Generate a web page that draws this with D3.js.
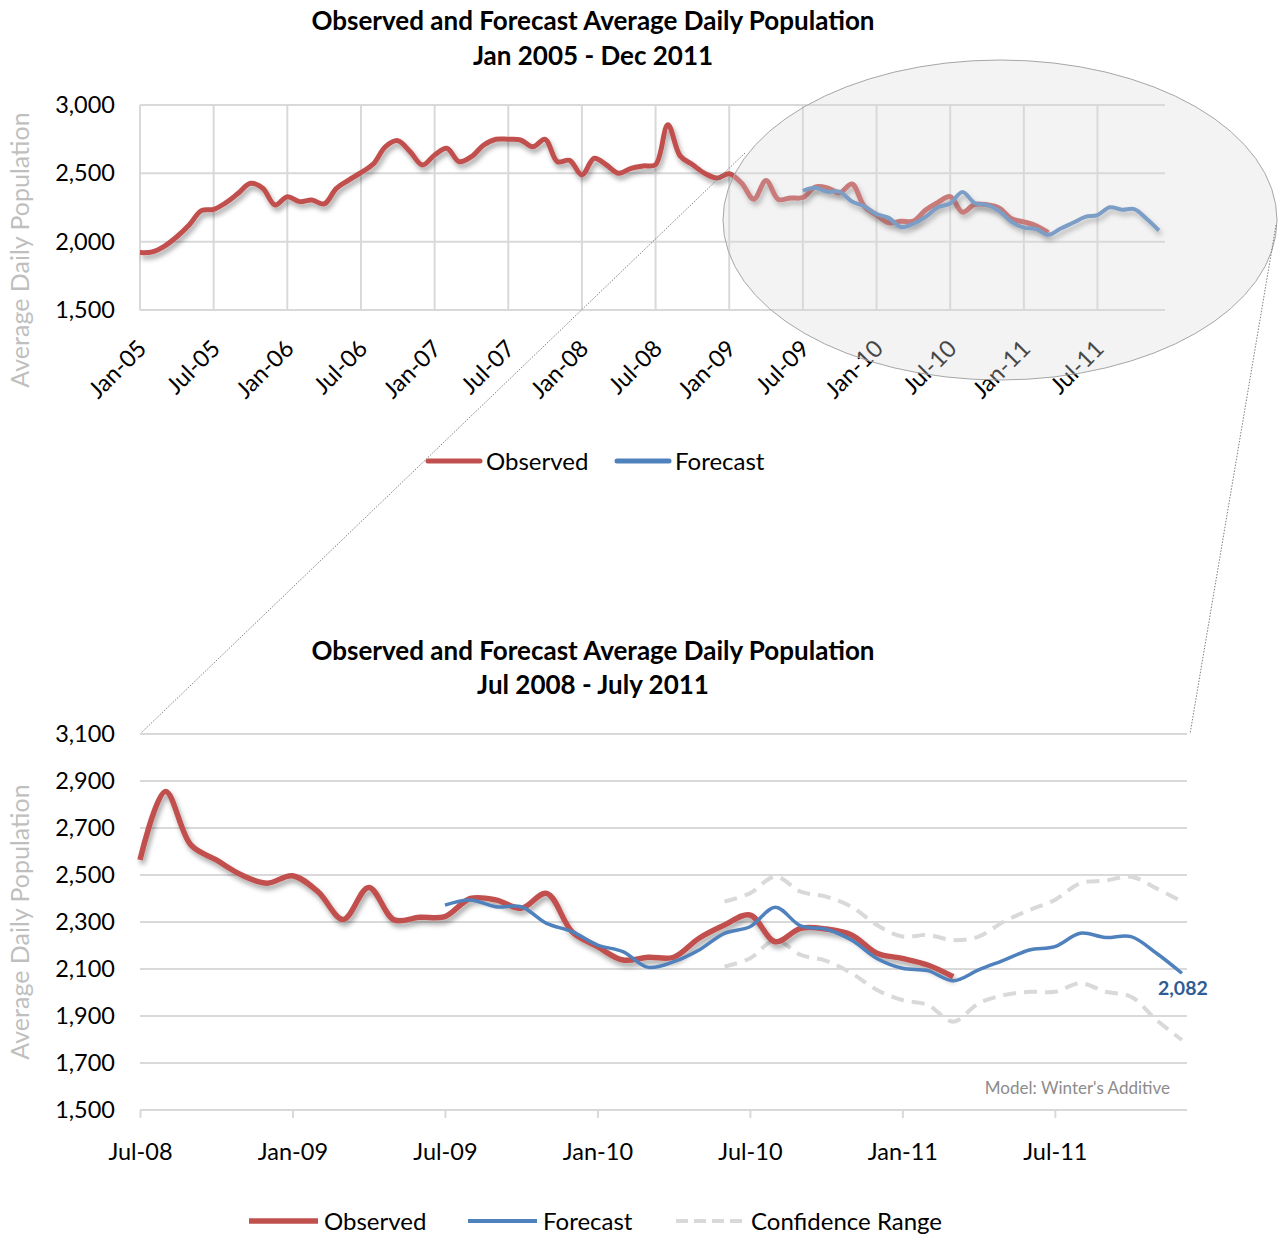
<!DOCTYPE html>
<html>
<head>
<meta charset="utf-8">
<script src="https://cdn.jsdelivr.net/npm/d3@7"></script>
<style>
  body { margin: 0; background: #fff; }
  svg { font-family: Lato, "Open Sans", sans-serif; }
</style>
</head>
<body>
<script>
// observed ADP, monthly Jan-05 .. Mar-11
let observed = [
  1920, 1925, 1968, 2036, 2122, 2227, 2237, 2285, 2354, 2427, 2391, 2268,
  2329, 2293, 2305, 2276, 2390, 2451, 2505, 2568, 2695, 2739, 2659, 2561,
  2634, 2683, 2585, 2622, 2707, 2749, 2749, 2744, 2695, 2749, 2585, 2595,
  2488, 2610, 2561, 2500, 2537, 2554, 2564, 2855, 2628, 2564, 2500, 2465,
  2497, 2429, 2311, 2447, 2309, 2320, 2323, 2400, 2394, 2358, 2422, 2259,
  2195, 2138, 2150, 2150, 2231, 2287, 2330, 2216, 2273, 2270, 2245, 2167,
  2145, 2117, 2067
]
// forecast, monthly Jul-09 .. Dec-11
let forecast = [
  2372, 2394, 2365, 2365, 2294, 2259, 2202, 2174, 2107, 2131, 2181, 2252,
  2280, 2363, 2283, 2269, 2223, 2145, 2103, 2093, 2050, 2096, 2138, 2181,
  2195, 2252, 2234, 2238, 2167, 2082
]
// confidence range, monthly Jun-10 .. Dec-11
let confUpper = [2387, 2422, 2493, 2429, 2408, 2365, 2287, 2238, 2245, 2223, 2238, 2302, 2351, 2394, 2465, 2476, 2493, 2443, 2387]
let confLower = [2110, 2145, 2223, 2160, 2135, 2082, 2011, 1968, 1947, 1876, 1954, 1989, 2003, 2003, 2039, 2003, 1982, 1883, 1798]

let topTicks = ["Jan-05", "Jul-05", "Jan-06", "Jul-06", "Jan-07", "Jul-07", "Jan-08", "Jul-08", "Jan-09", "Jul-09", "Jan-10", "Jul-10", "Jan-11", "Jul-11"]
let botTicks = ["Jul-08", "Jan-09", "Jul-09", "Jan-10", "Jul-10", "Jan-11", "Jul-11"]
let topY = [1500, 2000, 2500, 3000]
let botY = [1500, 1700, 1900, 2100, 2300, 2500, 2700, 2900, 3100]

// month offsets (from Jan-05)
const forecastStart = 54, confStart = 65, zoomStart = 42

const RED = "#c0504d", BLUE = "#4f81bd", GRID = "#d9d9d9"

let width = 1282, height = 1235

let svg = d3.select("body").append("svg")
    .attr("width", width)
    .attr("height", height)

let defs = svg.append("defs")
let f = defs.append("filter").attr("id", "shadow")
    .attr("x", "-10%").attr("y", "-20%").attr("width", "130%").attr("height", "150%")
f.append("feDropShadow")
    .attr("dx", 2).attr("dy", 4).attr("stdDeviation", 2.5)
    .attr("flood-color", "#000").attr("flood-opacity", 0.35)

const fmt = d3.format(",")

function series(arr, start) {
    return arr.map((v, i) => [start + i, v])
}

// ---------------- top chart ----------------
const xTop = d3.scaleLinear().domain([0, 83.5]).range([140, 1165])
const yTop = d3.scaleLinear().domain([1500, 3000]).range([310, 105])

let topG = svg.append("g")

topG.append("text")
    .attr("x", 593).attr("y", 30)
    .attr("text-anchor", "middle")
    .style("font-size", "26px").style("font-weight", "bold")
    .text("Observed and Forecast Average Daily Population")
topG.append("text")
    .attr("x", 593).attr("y", 65)
    .attr("text-anchor", "middle")
    .style("font-size", "26px").style("font-weight", "bold")
    .text("Jan 2005 - Dec 2011")

topG.selectAll("line.hgrid")
    .data(topY)
    .enter().append("line")
    .attr("class", "hgrid")
    .attr("x1", 140).attr("x2", 1165)
    .attr("y1", d => yTop(d)).attr("y2", d => yTop(d))
    .attr("stroke", GRID).attr("stroke-width", 2)

topG.selectAll("line.vgrid")
    .data(topTicks)
    .enter().append("line")
    .attr("class", "vgrid")
    .attr("x1", (d, i) => xTop(i * 6)).attr("x2", (d, i) => xTop(i * 6))
    .attr("y1", yTop(3000)).attr("y2", yTop(1500))
    .attr("stroke", GRID).attr("stroke-width", 2)

let yAxisTop = d3.axisLeft(yTop).tickValues(topY).tickFormat(fmt).tickSize(0).tickPadding(25)
topG.append("g")
    .attr("transform", "translate(140,0)")
    .call(yAxisTop)
    .call(g => g.select(".domain").remove())
    .selectAll("text")
    .style("font-size", "23.5px").style("font-family", "Lato").attr("fill", "#000")

topG.selectAll("text.xlab")
    .data(topTicks)
    .enter().append("text")
    .attr("class", "xlab")
    .attr("text-anchor", "end")
    .attr("transform", (d, i) => "translate(" + (xTop(i * 6) + 8) + ",350) rotate(-45)")
    .style("font-size", "23.5px")
    .text(d => d)

topG.append("text")
    .attr("transform", "translate(29,250) rotate(-90)")
    .attr("text-anchor", "middle")
    .attr("fill", "#bfbfbf")
    .style("font-size", "25px")
    .text("Average Daily Population")

const lineTop = d3.line()
    .x(d => xTop(d[0])).y(d => yTop(d[1]))
    .curve(d3.curveCatmullRom)

topG.append("path")
    .datum(series(observed, 0))
    .attr("d", lineTop)
    .attr("fill", "none").attr("stroke", RED).attr("stroke-width", 5)
    .attr("filter", "url(#shadow)")
topG.append("path")
    .datum(series(forecast, forecastStart))
    .attr("d", lineTop)
    .attr("fill", "none").attr("stroke", BLUE).attr("stroke-width", 4)
    .attr("filter", "url(#shadow)")

// magnifier
topG.append("ellipse")
    .attr("cx", 1000).attr("cy", 220).attr("rx", 277).attr("ry", 160)
    .attr("fill", "#d9d9d9").attr("fill-opacity", 0.32)
    .attr("stroke", "#a6a6a6").attr("stroke-width", 1)

svg.append("line")
    .attr("x1", 745).attr("y1", 153).attr("x2", 140).attr("y2", 734)
    .attr("stroke", "#7f7f7f").attr("stroke-width", 1).attr("stroke-dasharray", "1.5,1.5")
svg.append("line")
    .attr("x1", 1276).attr("y1", 225).attr("x2", 1190).attr("y2", 734)
    .attr("stroke", "#7f7f7f").attr("stroke-width", 1).attr("stroke-dasharray", "1.5,1.5")

// top legend
let legTop = [["Observed", RED, 428], ["Forecast", BLUE, 617]]
legTop.forEach(l => {
    topG.append("line")
        .attr("x1", l[2]).attr("x2", l[2] + 52).attr("y1", 461).attr("y2", 461)
        .attr("stroke", l[1]).attr("stroke-width", 5).attr("stroke-linecap", "round")
    topG.append("text")
        .attr("x", l[2] + 58).attr("y", 469.5)
        .style("font-size", "24px")
        .text(l[0])
})

// ---------------- bottom chart ----------------
const xBot = d3.scaleLinear().domain([0, 41.2]).range([140, 1187])
const yBot = d3.scaleLinear().domain([1500, 3100]).range([1110, 734])

let botG = svg.append("g")

botG.append("text")
    .attr("x", 593).attr("y", 660)
    .attr("text-anchor", "middle")
    .style("font-size", "26px").style("font-weight", "bold")
    .text("Observed and Forecast Average Daily Population")
botG.append("text")
    .attr("x", 593).attr("y", 694)
    .attr("text-anchor", "middle")
    .style("font-size", "26px").style("font-weight", "bold")
    .text("Jul 2008 - July 2011")

botG.selectAll("line.hgrid")
    .data(botY)
    .enter().append("line")
    .attr("class", "hgrid")
    .attr("x1", 140).attr("x2", 1187)
    .attr("y1", d => yBot(d)).attr("y2", d => yBot(d))
    .attr("stroke", GRID).attr("stroke-width", 2)

let yAxisBot = d3.axisLeft(yBot).tickValues(botY).tickFormat(fmt).tickSize(0).tickPadding(25)
botG.append("g")
    .attr("transform", "translate(140,0)")
    .call(yAxisBot)
    .call(g => g.select(".domain").remove())
    .selectAll("text")
    .style("font-size", "23.5px").style("font-family", "Lato").attr("fill", "#000")

let xAxisBot = d3.axisBottom(xBot)
    .tickValues(botTicks.map((d, i) => i * 6))
    .tickFormat((d, i) => botTicks[i])
    .tickSize(8).tickPadding(25)
botG.append("g")
    .attr("transform", "translate(0," + yBot(1500) + ")")
    .call(xAxisBot)
    .call(g => g.select(".domain").attr("stroke", GRID).attr("stroke-width", 2).attr("d", "M140,0H1187"))
    .call(g => g.selectAll(".tick line").attr("stroke", GRID).attr("stroke-width", 2))
    .selectAll("text")
    .style("font-size", "23.5px").style("font-family", "Lato").attr("fill", "#000")

botG.append("text")
    .attr("transform", "translate(29,922) rotate(-90)")
    .attr("text-anchor", "middle")
    .attr("fill", "#bfbfbf")
    .style("font-size", "25px")
    .text("Average Daily Population")

const lineBot = d3.line()
    .x(d => xBot(d[0] - zoomStart)).y(d => yBot(d[1]))
    .curve(d3.curveCatmullRom)

let confStyle = p => p.attr("fill", "none").attr("stroke", GRID).attr("stroke-width", 4)
    .attr("stroke-dasharray", "13,8")
botG.append("path").datum(series(confUpper, confStart)).attr("d", lineBot).call(confStyle)
botG.append("path").datum(series(confLower, confStart)).attr("d", lineBot).call(confStyle)

botG.append("path")
    .datum(series(observed, 0).slice(zoomStart))
    .attr("d", lineBot)
    .attr("fill", "none").attr("stroke", RED).attr("stroke-width", 5.5)
    .attr("filter", "url(#shadow)")
botG.append("path")
    .datum(series(forecast, forecastStart))
    .attr("d", lineBot)
    .attr("fill", "none").attr("stroke", BLUE).attr("stroke-width", 3.5)

let last = forecast[forecast.length - 1]
botG.append("text")
    .attr("x", xBot(forecastStart + forecast.length - 1 - zoomStart) + 1)
    .attr("y", yBot(last) + 22)
    .attr("text-anchor", "middle")
    .attr("fill", "#2f5c94")
    .style("font-size", "19.5px").style("font-weight", "bold")
    .text(fmt(last))

botG.append("text")
    .attr("x", 1170).attr("y", 1094)
    .attr("text-anchor", "end")
    .attr("fill", "#8c8c8c")
    .style("font-size", "17px")
    .text("Model: Winter's Additive")

// bottom legend
let legBot = [["Observed", RED, 249, 5.5, null], ["Forecast", BLUE, 468, 4, null], ["Confidence Range", GRID, 676, 4, "12,6"]]
legBot.forEach(l => {
    botG.append("line")
        .attr("x1", l[2]).attr("x2", l[2] + 69).attr("y1", 1221).attr("y2", 1221)
        .attr("stroke", l[1]).attr("stroke-width", l[3])
        .attr("stroke-dasharray", l[4])
    botG.append("text")
        .attr("x", l[2] + 75).attr("y", 1229.5)
        .style("font-size", "24px")
        .text(l[0])
})
</script>
</body>
</html>
